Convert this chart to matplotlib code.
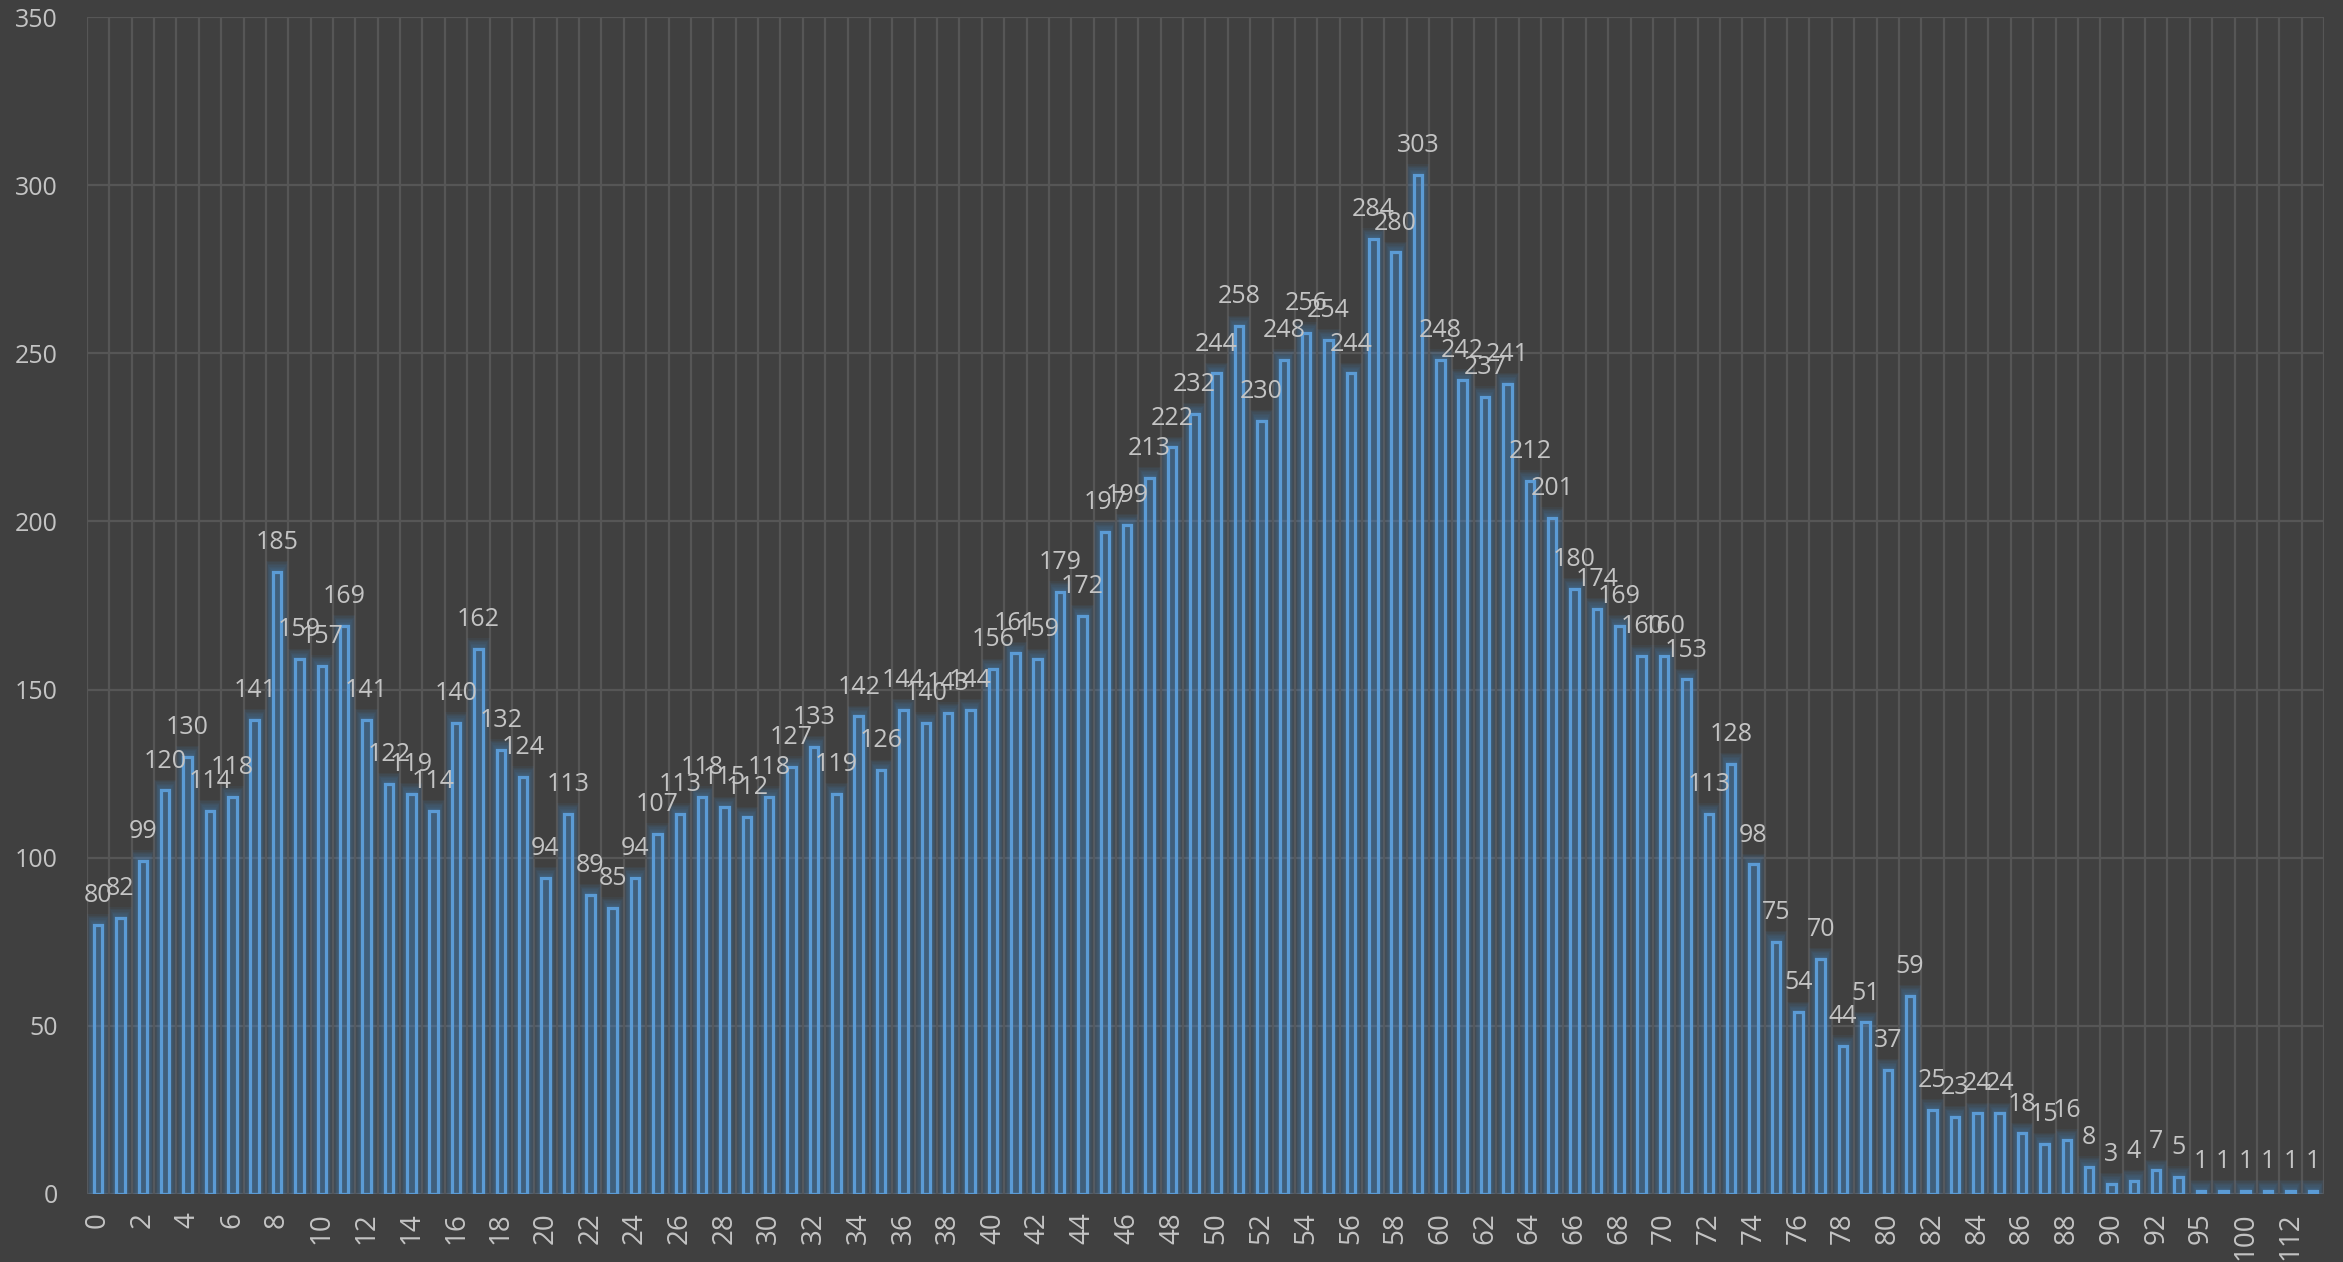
import matplotlib

matplotlib.use("Agg")

import matplotlib.pyplot as plt
import numpy as np


CATEGORIES = [str(i) for i in range(94)] + ["95", "97", "100", "105", "112", "118"]
COUNTS = [
    80, 82, 99, 120, 130, 114, 118, 141, 185, 159,
    157, 169, 141, 122, 119, 114, 140, 162, 132, 124,
    94, 113, 89, 85, 94, 107, 113, 118, 115, 112,
    118, 127, 133, 119, 142, 126, 144, 140, 143, 144,
    156, 161, 159, 179, 172, 197, 199, 213, 222, 232,
    244, 258, 230, 248, 256, 254, 244, 284, 280, 303,
    248, 242, 237, 241, 212, 201, 180, 174, 169, 160,
    160, 153, 113, 128, 98, 75, 54, 70, 44, 51,
    37, 59, 25, 23, 24, 24, 18, 15, 16, 8,
    3, 4, 7, 5, 1, 1, 1, 1, 1, 1,
]
Y_TICKS = [0, 50, 100, 150, 200, 250, 300, 350]


def main() -> None:
    colors = {
        "bg": "#404040",
        "grid": "#565656",
        "bar": "#5B9BD5",
        "glow": "#4a8ccc",
        "text": "#c4c4c4",
    }

    plt.rcParams.update({"font.family": ["Open Sans", "DejaVu Sans"]})

    fig = plt.figure(figsize=(23.43, 12.62), dpi=100)
    fig.patch.set_facecolor(colors["bg"])
    ax = fig.add_axes([0.0371, 0.0539, 0.9548, 0.9326])
    ax.set_facecolor(colors["bg"])

    x = np.arange(len(COUNTS))
    values = np.array(COUNTS, dtype=float)

    # soft glow around the bars, built from stacked translucent bars
    for k in range(1, 9):
        ax.bar(
            x,
            values + k * 0.4,
            0.40 + k * 0.075,
            color=colors["glow"],
            alpha=0.07,
            linewidth=0,
            zorder=2,
        )

    ax.bar(
        x,
        values,
        0.38,
        facecolor="none",
        edgecolor=colors["bar"],
        linewidth=2.3,
        zorder=3,
    )

    for xi, v in zip(x, COUNTS):
        ax.annotate(
            str(v),
            (xi, v),
            xytext=(0, 16.5),
            textcoords="offset points",
            ha="center",
            va="baseline",
            fontsize=18,
            color=colors["text"],
            zorder=4,
        )

    ax.set_xlim(-0.5, len(COUNTS) - 0.5)
    ax.set_ylim(0, 350)
    ax.set_yticks(Y_TICKS)
    ax.set_xticks(x[::2])
    ax.set_xticklabels(CATEGORIES[::2], rotation=90)
    ax.set_xticks(np.arange(-0.5, len(COUNTS), 1), minor=True)

    ax.tick_params(axis="both", which="both", length=0, colors=colors["text"], labelsize=18)
    ax.tick_params(axis="x", labelsize=20, pad=13)
    ax.tick_params(axis="y", pad=21)

    ax.grid(axis="y", which="major", color=colors["grid"], linewidth=1.6, zorder=0)
    ax.grid(axis="x", which="minor", color=colors["grid"], linewidth=1.6, zorder=0)
    ax.set_axisbelow(True)
    for spine in ax.spines.values():
        spine.set_visible(False)

    fig.savefig("out.png", dpi=100, facecolor=colors["bg"])


if __name__ == "__main__":
    main()
